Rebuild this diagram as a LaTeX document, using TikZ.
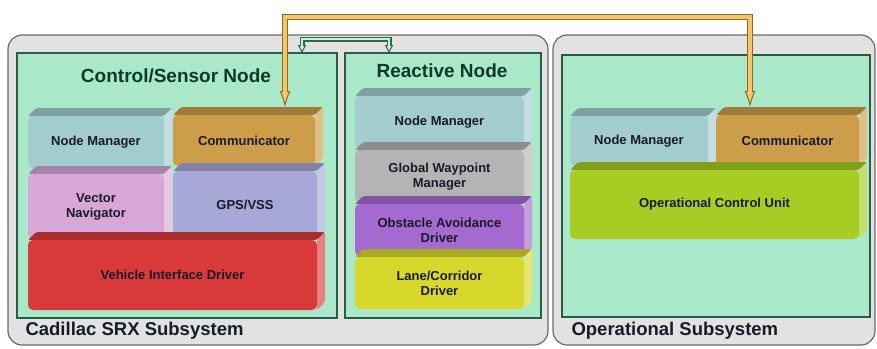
\documentclass[tikz,border=0pt]{standalone}
\usepackage{fontspec}
\setmainfont{Liberation Sans}
\usetikzlibrary{arrows.meta}
\definecolor{subfill}{HTML}{E2E2E2}
\definecolor{subedge}{HTML}{6A6A6A}
\definecolor{nodefill}{HTML}{A9E8C9}
\definecolor{nodeedge}{HTML}{2C5B48}
\definecolor{titlecol}{HTML}{0E3A28}
\definecolor{txtcol}{HTML}{1A1A28}
\definecolor{cteal}{HTML}{A3CCCF}
\definecolor{ctan}{HTML}{CD9E4A}
\definecolor{cpink}{HTML}{D8A7D7}
\definecolor{clav}{HTML}{A7A7D8}
\definecolor{cred}{HTML}{D83A3A}
\definecolor{cgray}{HTML}{B4B4B4}
\definecolor{cpurple}{HTML}{A56AD0}
\definecolor{cyellow}{HTML}{D8D82C}
\definecolor{clime}{HTML}{A7CC24}
\definecolor{yedge}{HTML}{8C6A2A}
\definecolor{ylight}{HTML}{F3C66C}
\definecolor{gedge}{HTML}{2E6A4C}
\definecolor{glight}{HTML}{CDEEDD}
\tikzset{
  subbox/.style={draw=subedge, fill=subfill, line width=1.2pt, rounded corners=14pt},
  nodebox/.style={draw=nodeedge, fill=nodefill, line width=1.5pt},
  blk/.style={rounded corners=5pt, inner sep=0pt, align=center, text=txtcol,
    font=\fontsize{13}{15}\selectfont\bfseries},
  ttl/.style={text=titlecol, font=\fontsize{19}{21}\selectfont\bfseries},
  subttl/.style={text=txtcol, font=\fontsize{18.5}{20}\selectfont\bfseries, anchor=west},
  youter/.style={draw=yedge, line width=6.5pt,
    {Latex[length=16pt,width=11pt,fill=ylight,line width=1pt]}-{Latex[length=16pt,width=11pt,fill=ylight,line width=1pt]}},
  yinner/.style={draw=ylight, line width=3.6pt, shorten <=11pt, shorten >=11pt},
  gouter/.style={draw=gedge, line width=5pt,
    {Latex[length=9pt,width=9pt,fill=glight,line width=1pt]}-{Latex[length=9pt,width=9pt,fill=glight,line width=1pt]}},
  ginner/.style={draw=glight, line width=2.4pt, shorten <=6pt, shorten >=6pt},
}
% #1 name, #2 x1, #3 y1, #4 x2, #5 y2, #6 colour, #7 text
\newcommand\blockbox[7]{%
  \fill[#6!78!black, rounded corners=2pt] (#2,#3+8) -- (#2+8,#3) -- (#4,#3) -- (#4-8,#3+8) -- cycle;
  \fill[#6!65!white, rounded corners=2pt] (#4-8,#3+8) -- (#4,#3) -- (#4,#5-8) -- (#4-8,#5) -- cycle;
  \node[blk, fill=#6, minimum width={#4-#2-8}, minimum height={#5-#3-8}]
    (#1) at ({(#2+#4-8)/2},{(#3+8+#5)/2}) {#7};%
}
\begin{document}
\begin{tikzpicture}[x=1pt,y=-1pt]
\useasboundingbox (0,0) rectangle (877,348);
% subsystems
\path[subbox] (8,35) rectangle (548,345);
\path[subbox] (553,35) rectangle (875,345);
\node[subttl] (cadlbl) at (22,331) {Cadillac SRX Subsystem};
\node[subttl] (oplbl) at (568,331) {Operational Subsystem};
% green node boxes
\path[nodebox] (17,53) rectangle (337,318);
\path[nodebox] (345,53) rectangle (541,318);
\path[nodebox] (562,55) rectangle (870,317);
\node[ttl] (cstitle) at (176,76) {Control/Sensor Node};
\node[ttl] (rntitle) at (442,71) {Reactive Node};
% control/sensor blocks
\blockbox{nm1}{28}{108}{172}{168}{cteal}{Node Manager}
\blockbox{comm1}{173}{107}{323}{166}{ctan}{Communicator}
\blockbox{vn}{28}{166}{172}{239}{cpink}{Vector\\Navigator}
\blockbox{gps}{173}{163}{325}{239}{clav}{GPS/VSS}
\blockbox{vid}{28}{232}{325}{310}{cred}{Vehicle Interface Driver}
% reactive blocks
\blockbox{nm2}{355}{88}{532}{149}{cteal}{Node Manager}
\blockbox{gwm}{355}{142}{532}{203}{cgray}{Global Waypoint\\Manager}
\blockbox{oad}{355}{196}{532}{256}{cpurple}{Obstacle Avoidance\\Driver}
\blockbox{lcd}{355}{249}{532}{309}{cyellow}{Lane/Corridor\\Driver}
% operational blocks
\blockbox{nm3}{570}{108}{716}{166}{cteal}{Node Manager}
\blockbox{comm2}{716}{107}{867}{166}{ctan}{Communicator}
\blockbox{ocu}{570}{162}{867}{239}{clime}{Operational Control Unit}
% connectors
\coordinate (ya) at (285,107);
\coordinate (yb) at (750,107);
\coordinate (ga) at (302,54);
\coordinate (gb) at (389,54);
\draw[youter] (ya) -- (ya |- 0,17) -| (yb);
\draw[yinner] (ya) -- (ya |- 0,17) -| (yb);
\draw[gouter] (ga) -- (ga |- 0,39) -| (gb);
\draw[ginner] (ga) -- (ga |- 0,39) -| (gb);
\end{tikzpicture}
\end{document}
